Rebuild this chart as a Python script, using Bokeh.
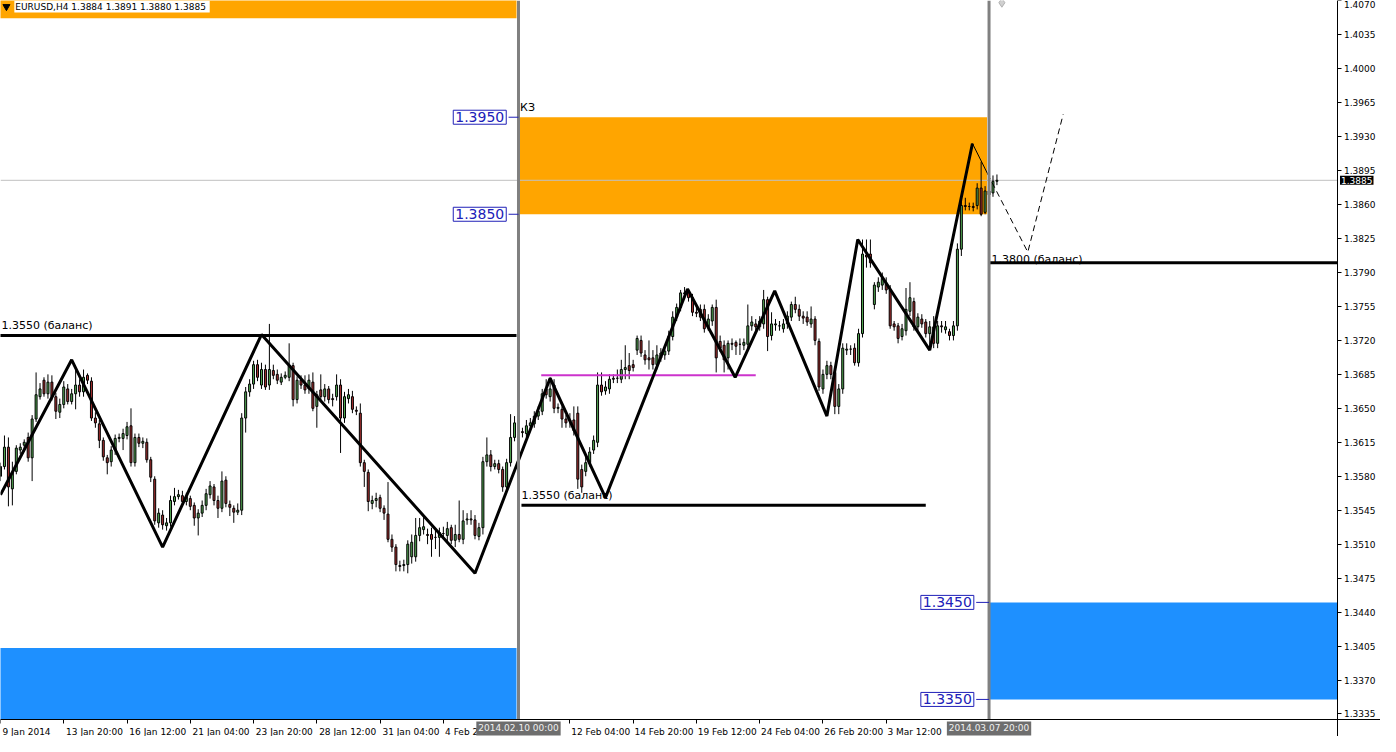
from bokeh.plotting import figure
from bokeh.models import (Range1d, FixedTicker, Label, PrintfTickFormatter,
                          ColumnDataSource, LinearAxis)
from bokeh.core.properties import value
from bokeh.embed import file_html
from bokeh.resources import INLINE

# ---------------- data (EURUSD H4, bar 0 = 2014.02.10 00:00) ----------------
FIRST_BAR = -131

open_ = [
    1.3580, 1.3590, 1.3610, 1.3567, 1.3585, 1.3607, 1.3612, 1.3620, 1.3599, 1.3639,
    1.3662, 1.3679, 1.3665, 1.3677, 1.3662, 1.3646, 1.3654, 1.3670, 1.3657, 1.3665,
    1.3674, 1.3667, 1.3684, 1.3678, 1.3640, 1.3634, 1.3617, 1.3599, 1.3595, 1.3607,
    1.3619, 1.3619, 1.3622, 1.3632, 1.3594, 1.3620, 1.3614, 1.3615, 1.3597, 1.3577,
    1.3532, 1.3540, 1.3529, 1.3532, 1.3554, 1.3559, 1.3560, 1.3554, 1.3557, 1.3550,
    1.3537, 1.3542, 1.3550, 1.3561, 1.3569, 1.3555, 1.3547, 1.3576, 1.3551, 1.3547,
    1.3543, 1.3545, 1.3640, 1.3667, 1.3675, 1.3695, 1.3674, 1.3690, 1.3674, 1.3689,
    1.3685, 1.3677, 1.3682, 1.3682, 1.3694, 1.3659, 1.3679, 1.3674, 1.3670, 1.3677,
    1.3652, 1.3669, 1.3662, 1.3670, 1.3660, 1.3662, 1.3674, 1.3640, 1.3660, 1.3662,
    1.3648, 1.3645, 1.3594, 1.3584, 1.3552, 1.3555, 1.3558, 1.3547, 1.3541, 1.3515,
    1.3507, 1.3488, 1.3488, 1.3489, 1.3497, 1.3497, 1.3519, 1.3525, 1.3520, 1.3520,
    1.3517, 1.3517, 1.3521, 1.3519, 1.3527, 1.3514, 1.3520, 1.3515, 1.3535, 1.3536,
    1.3535, 1.3518, 1.3527, 1.3595, 1.3602, 1.3590, 1.3593, 1.3587, 1.3569, 1.3594, 1.3620,
    1.3635, 1.3626, 1.3624, 1.3632, 1.3634, 1.3642, 1.3647, 1.3670, 1.3662, 1.3674,
    1.3650, 1.3649, 1.3639, 1.3637, 1.3638, 1.3645, 1.3587, 1.3585, 1.3594, 1.3607,
    1.3615, 1.3674, 1.3668, 1.3670, 1.3680, 1.3681, 1.3680, 1.3690, 1.3694, 1.3695,
    1.3710, 1.3720, 1.3705, 1.3702, 1.3702, 1.3695, 1.3702, 1.3705, 1.3709, 1.3724,
    1.3744, 1.3754, 1.3768, 1.3770, 1.3764, 1.3749, 1.3752, 1.3752, 1.3734, 1.3740,
    1.3754, 1.3719, 1.3715, 1.3702, 1.3717, 1.3718, 1.3716, 1.3715, 1.3716, 1.3735,
    1.3737, 1.3734, 1.3737, 1.3762, 1.3725, 1.3736, 1.3735, 1.3732, 1.3737, 1.3744,
    1.3757, 1.3752, 1.3745, 1.3744, 1.3737, 1.3742, 1.3719, 1.3670, 1.3685, 1.3694,
    1.3687, 1.3652, 1.3670, 1.3710, 1.3711, 1.3712, 1.3697, 1.3727, 1.3808, 1.3809,
    1.3757, 1.3775, 1.3777, 1.3779, 1.3772, 1.3737, 1.3735, 1.3724, 1.3730, 1.3750,
    1.3760, 1.3734, 1.3742, 1.3739, 1.3727, 1.3734, 1.3717, 1.3735, 1.3731, 1.3729,
    1.3725, 1.3735, 1.3814, 1.3859, 1.3858, 1.3858, 1.3859, 1.3877, 1.3852, 1.3874,
    1.3872, 1.3884,
]

high = [
    1.3594, 1.3622, 1.3620, 1.3595, 1.3612, 1.3614, 1.3618, 1.3625, 1.3643, 1.3687,
    1.3676, 1.3682, 1.3685, 1.3684, 1.3666, 1.3660, 1.3678, 1.3675, 1.3670, 1.3690,
    1.3680, 1.3690, 1.3686, 1.3682, 1.3646, 1.3638, 1.3620, 1.3602, 1.3611, 1.3623,
    1.3624, 1.3629, 1.3636, 1.3650, 1.3624, 1.3624, 1.3620, 1.3619, 1.3600, 1.3580,
    1.3547, 1.3545, 1.3537, 1.3560, 1.3568, 1.3566, 1.3565, 1.3563, 1.3560, 1.3553,
    1.3546, 1.3555, 1.3567, 1.3575, 1.3572, 1.3560, 1.3585, 1.3580, 1.3555, 1.3550,
    1.3552, 1.3645, 1.3672, 1.3680, 1.3699, 1.3700, 1.3697, 1.3695, 1.3737, 1.3695,
    1.3690, 1.3686, 1.3688, 1.3717, 1.3697, 1.3683, 1.3684, 1.3684, 1.3685, 1.3687,
    1.3668, 1.3685, 1.3675, 1.3673, 1.3665, 1.3685, 1.3680, 1.3667, 1.3670, 1.3668,
    1.3652, 1.3655, 1.3597, 1.3587, 1.3560, 1.3563, 1.3561, 1.3550, 1.3574, 1.3520,
    1.3510, 1.3493, 1.3494, 1.3514, 1.3520, 1.3537, 1.3537, 1.3540, 1.3526, 1.3527,
    1.3525, 1.3527, 1.3528, 1.3533, 1.3530, 1.3530, 1.3555, 1.3545, 1.3542, 1.3545,
    1.3540, 1.3532, 1.3600, 1.3620, 1.3607, 1.3597, 1.3597, 1.3590, 1.3598, 1.3644, 1.3642,
    1.3645, 1.3630, 1.3638, 1.3640, 1.3647, 1.3652, 1.3670, 1.3680, 1.3682, 1.3680,
    1.3655, 1.3652, 1.3643, 1.3645, 1.3652, 1.3652, 1.3592, 1.3600, 1.3610, 1.3622,
    1.3687, 1.3687, 1.3678, 1.3685, 1.3685, 1.3690, 1.3700, 1.3715, 1.3707, 1.3700,
    1.3725, 1.3725, 1.3710, 1.3720, 1.3710, 1.3715, 1.3712, 1.3715, 1.3730, 1.3750,
    1.3758, 1.3772, 1.3775, 1.3772, 1.3768, 1.3755, 1.3757, 1.3757, 1.3747, 1.3757,
    1.3762, 1.3725, 1.3720, 1.3720, 1.3722, 1.3720, 1.3722, 1.3722, 1.3757, 1.3745,
    1.3742, 1.3745, 1.3772, 1.3765, 1.3749, 1.3742, 1.3740, 1.3742, 1.3750, 1.3760,
    1.3765, 1.3757, 1.3750, 1.3750, 1.3755, 1.3745, 1.3722, 1.3690, 1.3699, 1.3698,
    1.3690, 1.3675, 1.3717, 1.3717, 1.3715, 1.3717, 1.3732, 1.3824, 1.3824, 1.3824,
    1.3780, 1.3785, 1.3790, 1.3785, 1.3777, 1.3740, 1.3738, 1.3737, 1.3774, 1.3780,
    1.3764, 1.3748, 1.3747, 1.3742, 1.3740, 1.3745, 1.3740, 1.3740, 1.3740, 1.3732,
    1.3740, 1.3820, 1.3865, 1.3867, 1.3862, 1.3862, 1.3882, 1.3904, 1.3879, 1.3880,
    1.3890, 1.3891,
]

low = [
    1.3575, 1.3587, 1.3549, 1.3550, 1.3582, 1.3603, 1.3608, 1.3595, 1.3575, 1.3636,
    1.3659, 1.3662, 1.3660, 1.3658, 1.3639, 1.3640, 1.3650, 1.3654, 1.3654, 1.3649,
    1.3662, 1.3662, 1.3675, 1.3637, 1.3630, 1.3609, 1.3596, 1.3582, 1.3590, 1.3602,
    1.3615, 1.3607, 1.3618, 1.3590, 1.3590, 1.3610, 1.3609, 1.3594, 1.3574, 1.3530,
    1.3527, 1.3525, 1.3524, 1.3528, 1.3550, 1.3556, 1.3550, 1.3550, 1.3545, 1.3529,
    1.3519, 1.3538, 1.3545, 1.3557, 1.3550, 1.3537, 1.3543, 1.3548, 1.3539, 1.3532,
    1.3540, 1.3540, 1.3625, 1.3662, 1.3670, 1.3678, 1.3670, 1.3669, 1.3669, 1.3680,
    1.3675, 1.3674, 1.3680, 1.3678, 1.3652, 1.3655, 1.3670, 1.3665, 1.3665, 1.3647,
    1.3630, 1.3658, 1.3657, 1.3655, 1.3652, 1.3658, 1.3604, 1.3635, 1.3655, 1.3645,
    1.3643, 1.3590, 1.3569, 1.3544, 1.3546, 1.3548, 1.3543, 1.3535, 1.3512, 1.3502,
    1.3482, 1.3482, 1.3482, 1.3480, 1.3490, 1.3492, 1.3513, 1.3520, 1.3510, 1.3497,
    1.3505, 1.3497, 1.3515, 1.3513, 1.3510, 1.3507, 1.3512, 1.3510, 1.3530, 1.3530,
    1.3515, 1.3514, 1.3520, 1.3590, 1.3585, 1.3587, 1.3583, 1.3564, 1.3565, 1.3590, 1.3616,
    1.3630, 1.3620, 1.3620, 1.3628, 1.3630, 1.3638, 1.3643, 1.3660, 1.3657, 1.3645,
    1.3645, 1.3630, 1.3630, 1.3630, 1.3622, 1.3567, 1.3563, 1.3580, 1.3590, 1.3603,
    1.3610, 1.3663, 1.3664, 1.3665, 1.3676, 1.3676, 1.3676, 1.3680, 1.3680, 1.3688,
    1.3705, 1.3703, 1.3695, 1.3690, 1.3690, 1.3690, 1.3698, 1.3700, 1.3705, 1.3720,
    1.3740, 1.3750, 1.3765, 1.3760, 1.3745, 1.3744, 1.3740, 1.3728, 1.3730, 1.3735,
    1.3687, 1.3708, 1.3687, 1.3690, 1.3710, 1.3705, 1.3705, 1.3710, 1.3710, 1.3730,
    1.3728, 1.3730, 1.3732, 1.3709, 1.3720, 1.3730, 1.3730, 1.3728, 1.3732, 1.3740,
    1.3748, 1.3740, 1.3737, 1.3735, 1.3733, 1.3715, 1.3668, 1.3665, 1.3680, 1.3680,
    1.3644, 1.3644, 1.3665, 1.3705, 1.3705, 1.3694, 1.3693, 1.3723, 1.3795, 1.3795,
    1.3752, 1.3770, 1.3772, 1.3768, 1.3732, 1.3730, 1.3717, 1.3720, 1.3725, 1.3745,
    1.3730, 1.3730, 1.3733, 1.3723, 1.3712, 1.3712, 1.3712, 1.3728, 1.3727, 1.3720,
    1.3720, 1.3730, 1.3807, 1.3854, 1.3854, 1.3853, 1.3855, 1.3848, 1.3850, 1.3865,
    1.3868, 1.3880,
]

close = [
    1.3590, 1.3610, 1.3569, 1.3584, 1.3609, 1.3610, 1.3615, 1.3599, 1.3639, 1.3664,
    1.3670, 1.3665, 1.3677, 1.3662, 1.3647, 1.3654, 1.3672, 1.3657, 1.3665, 1.3674,
    1.3667, 1.3682, 1.3679, 1.3640, 1.3635, 1.3617, 1.3600, 1.3594, 1.3607, 1.3619,
    1.3620, 1.3624, 1.3631, 1.3594, 1.3620, 1.3614, 1.3616, 1.3597, 1.3579, 1.3534,
    1.3542, 1.3530, 1.3532, 1.3555, 1.3559, 1.3561, 1.3554, 1.3559, 1.3549, 1.3537,
    1.3542, 1.3550, 1.3562, 1.3570, 1.3555, 1.3547, 1.3575, 1.3552, 1.3548, 1.3543,
    1.3545, 1.3640, 1.3667, 1.3675, 1.3695, 1.3682, 1.3690, 1.3672, 1.3690, 1.3684,
    1.3679, 1.3682, 1.3684, 1.3694, 1.3659, 1.3679, 1.3674, 1.3669, 1.3679, 1.3650,
    1.3664, 1.3662, 1.3670, 1.3659, 1.3659, 1.3674, 1.3640, 1.3662, 1.3664, 1.3649,
    1.3647, 1.3594, 1.3585, 1.3554, 1.3555, 1.3557, 1.3547, 1.3542, 1.3515, 1.3507,
    1.3489, 1.3487, 1.3489, 1.3510, 1.3512, 1.3519, 1.3527, 1.3528, 1.3519, 1.3515,
    1.3517, 1.3522, 1.3521, 1.3526, 1.3514, 1.3520, 1.3515, 1.3534, 1.3536, 1.3535,
    1.3519, 1.3527, 1.3595, 1.3602, 1.3590, 1.3593, 1.3587, 1.3569, 1.3594, 1.3620, 1.3635,
    1.3640, 1.3625, 1.3632, 1.3635, 1.3642, 1.3647, 1.3665, 1.3664, 1.3670, 1.3650,
    1.3651, 1.3639, 1.3635, 1.3638, 1.3627, 1.3577, 1.3569, 1.3594, 1.3605, 1.3617,
    1.3674, 1.3667, 1.3672, 1.3680, 1.3681, 1.3681, 1.3690, 1.3692, 1.3689, 1.3692,
    1.3722, 1.3707, 1.3700, 1.3700, 1.3695, 1.3705, 1.3707, 1.3709, 1.3724, 1.3744,
    1.3754, 1.3769, 1.3769, 1.3764, 1.3749, 1.3748, 1.3744, 1.3732, 1.3742, 1.3754,
    1.3702, 1.3712, 1.3700, 1.3717, 1.3716, 1.3714, 1.3716, 1.3718, 1.3735, 1.3739,
    1.3734, 1.3740, 1.3762, 1.3724, 1.3737, 1.3737, 1.3735, 1.3737, 1.3745, 1.3757,
    1.3752, 1.3745, 1.3743, 1.3739, 1.3742, 1.3720, 1.3672, 1.3685, 1.3694, 1.3685,
    1.3652, 1.3670, 1.3712, 1.3711, 1.3711, 1.3697, 1.3727, 1.3809, 1.3806, 1.3800,
    1.3777, 1.3780, 1.3784, 1.3772, 1.3735, 1.3734, 1.3722, 1.3732, 1.3752, 1.3764,
    1.3734, 1.3744, 1.3737, 1.3727, 1.3734, 1.3717, 1.3735, 1.3734, 1.3734, 1.3725,
    1.3735, 1.3814, 1.3859, 1.3858, 1.3858, 1.3857, 1.3877, 1.3850, 1.3874, 1.3870,
    1.3884, 1.3885,
]

# time axis labels (bar index -> text)
date_ticks = [-131, -115, -99, -83, -67, -51, -35, -19, 13, 29, 45, 61, 77, 93]
date_labels = ["9 Jan 2014", "13 Jan 20:00", "16 Jan 12:00", "21 Jan 04:00",
               "23 Jan 20:00", "28 Jan 12:00", "31 Jan 04:00", "4 Feb 20:00",
               "12 Feb 04:00", "14 Feb 20:00", "19 Feb 12:00", "24 Feb 04:00",
               "26 Feb 20:00", "3 Mar 12:00"]
price_ticks = [1.3335, 1.3370, 1.3405, 1.3440, 1.3475, 1.3510, 1.3545, 1.3580,
               1.3615, 1.3650, 1.3685, 1.3720, 1.3755, 1.3790, 1.3825, 1.3860,
               1.3895, 1.3930, 1.3965, 1.4000, 1.4035, 1.4070]

# vertical separators (bars) and their labels
sep_bars = [0, 119]
sep_labels = ["2014.02.10 00:00", "2014.03.07 20:00"]

# zones: left, right, bottom, top
zone_left = [-140, -140, 0.25, 119.25]
zone_right = [-0.5, -0.5, 118.5, 207]
zone_bottom = [1.4052, 1.33289, 1.3850, 1.3350]
zone_top = [1.4200, 1.3403, 1.3950, 1.3450]
zone_color = ["#FFA500", "#1E90FF", "#FFA500", "#1E90FF"]

# balance levels
lvl_x0 = [-140, 0.75, 119.25]
lvl_x1 = [-0.5, 103, 207]
lvl_price = [1.3725, 1.3550, 1.3800]
lvl_text = ["1.3550 (баланс)", "1.3550 (баланс)", "1.3800 (баланс)"]

# price tags
tag_price = [1.3950, 1.3850, 1.3450, 1.3350]
tag_anchor = [0, 0, 119, 119]

# zigzag
zz_bar = [-131, -113, -90, -65, -11, 8, 22, 42.75, 54.8, 64.8, 78, 85.8, 104, 114.8]
zz_price = [1.3561, 1.3700, 1.3507, 1.3726, 1.3480, 1.3681, 1.3558, 1.3773,
            1.3682, 1.3771, 1.3642, 1.3824, 1.3710, 1.3923]

# forecast path
fc_bar = [114.8, 118.6, 128.8, 137.75]
fc_price = [1.3923, 1.3892, 1.3811, 1.3953]

# magenta level
mg_bar = [5.75, 60]
mg_price = [1.3684, 1.3684]

current_price = 1.3885
title_text = "EURUSD,H4  1.3884 1.3891 1.3880 1.3885"

# ---------------- figure ----------------
W, H = 1380, 736
X0, XA = -131, 207            # chart area in bars (XA = price axis position)
X1 = XA + 11                  # right end incl. the price-axis strip
YA, Y1 = 1.33289, 1.40703     # chart area in price (YA = time axis position)
Y0 = YA - 0.00171             # bottom incl. the time-axis strip
FONT = "DejaVu Sans"
PX_PER_BAR = W / (X1 - X0)
PX_PER_PRICE = H / (Y1 - Y0)

p = figure(width=W, height=H, x_range=Range1d(X0, X1), y_range=Range1d(Y0, Y1),
           x_axis_location=None, y_axis_location=None,
           toolbar_location=None, output_backend="svg",
           min_border_left=0, min_border_top=0, min_border_right=0, min_border_bottom=0)
p.outline_line_color = None
p.background_fill_color = "white"
p.border_fill_color = "white"
p.xgrid.visible = False
p.ygrid.visible = False

# zones
p.quad(left=zone_left, right=zone_right, bottom=zone_bottom, top=zone_top,
       fill_color=zone_color, line_color=None)

# current price line
p.segment(x0=[X0], y0=[current_price], x1=[XA], y1=[current_price],
          line_color="#C0C0C0", line_width=1)

# candles
bars = list(range(FIRST_BAR, FIRST_BAR + len(close)))
src = ColumnDataSource(dict(
    x=bars, h=high, l=low,
    top=[max(o, c) for o, c in zip(open_, close)],
    bot=[min(o, c) for o, c in zip(open_, close)],
    fill=["#52A852" if c >= o else "#A83030" for o, c in zip(open_, close)],
))
p.segment(x0="x", y0="h", x1="x", y1="l", source=src, line_color="black", line_width=1)
p.vbar(x="x", width=0.5, top="top", bottom="bot", fill_color="fill",
       line_color="black", line_width=1, source=src)

# level texts
p.text(x=[X0 + 0.25, 0.75, 119.6], y=[1.37284, 1.35539, 1.37970], text=lvl_text,
       text_font=value(FONT), text_font_size=value("11px"), text_color="black",
       text_align="left", text_baseline="bottom")
p.text(x=[0.4], y=[1.39533], text=["КЗ"], text_font=value(FONT),
       text_font_size=value("11px"), text_color="black",
       text_align="left", text_baseline="bottom")

# balance levels
p.segment(x0=lvl_x0, y0=lvl_price, x1=lvl_x1, y1=lvl_price, line_color="black", line_width=3)

# magenta level
p.line(mg_bar, mg_price, line_color="#CC33CC", line_width=2)

# zigzag
p.line(zz_bar, zz_price, line_color="black", line_width=3)

# forecast
p.line(fc_bar[:2], fc_price[:2], line_color="black", line_width=1)
p.line(fc_bar[1:], fc_price[1:], line_color="black", line_width=1, line_dash="6 4")

# small diamond at top
p.scatter([122.25], [1.4068], marker="diamond", size=9, fill_color="#D0D0D0", line_color="#B0B0B0")

# separators
p.segment(x0=sep_bars, y0=[YA] * len(sep_bars), x1=sep_bars, y1=[Y1] * len(sep_bars),
          line_color="#808080", line_width=3)

# price tags
BLUE = "#2020B8"
for pr, anc in zip(tag_price, tag_anchor):
    gap = 2.5 if anc == 0 else 3.25
    p.segment(x0=[anc - gap], y0=[pr], x1=[anc], y1=[pr], line_color=BLUE, line_width=1)
    p.add_layout(Label(x=anc - gap - 0.6, y=pr, text="%.4f" % pr, text_align="right",
                       text_baseline="middle", text_color=BLUE, text_font=FONT,
                       text_font_size="14px", border_line_color=BLUE, border_line_width=1,
                       background_fill_color="white", padding=2))

# title
p.scatter([X0 + 1.5], [1.4064], marker="inverted_triangle", size=7,
          fill_color="black", line_color="black")
p.add_layout(Label(x=X0 + 3.5, y=1.4064, text=title_text, text_align="left",
                   text_baseline="middle", text_color="black", text_font=FONT,
                   text_font_size="9px", background_fill_color="white", padding=1))

# ---------------- axes (fixed at the chart-area edges) ----------------
label_centers = [t + (2 + 4.8 * len(s) / 2) / PX_PER_BAR for t, s in zip(date_ticks, date_labels)]
xaxis = LinearAxis(fixed_location=YA,
                   ticker=FixedTicker(ticks=label_centers, minor_ticks=date_ticks),
                   major_label_overrides={c: s for c, s in zip(label_centers, date_labels)},
                   major_tick_out=0, major_tick_in=0, minor_tick_out=4, minor_tick_in=0,
                   axis_line_color="black", minor_tick_line_color="black",
                   major_label_standoff=3, major_label_text_font=FONT,
                   major_label_text_font_size="9px", major_label_text_color="black")
p.add_layout(xaxis, "below")

yaxis = LinearAxis(fixed_location=XA, ticker=FixedTicker(ticks=price_ticks),
                   formatter=PrintfTickFormatter(format="%.4f"),
                   major_tick_out=4, major_tick_in=0, minor_tick_out=0, minor_tick_in=0,
                   major_label_standoff=3, axis_line_color="black",
                   major_tick_line_color="black", major_label_text_font=FONT,
                   major_label_text_font_size="9px", major_label_text_color="black")
p.add_layout(yaxis, "right")

# highlighted time labels of the separators and the current price tag
Y_DATE = YA - 8.5 / PX_PER_PRICE
for b, lab in zip(sep_bars, sep_labels):
    p.add_layout(Label(x=b, y=Y_DATE, text=lab, text_align="center",
                       text_baseline="middle", text_color="#F0F0F0", text_font=FONT,
                       text_font_size="9px", background_fill_color="#6E6E6E", padding=2))

p.add_layout(Label(x=XA + 3 / PX_PER_BAR, y=current_price, text="%.4f" % current_price,
                   text_align="left", text_baseline="middle", text_color="white",
                   text_font=FONT, text_font_size="9px", background_fill_color="black",
                   padding=1))

open("out.html", "w").write(file_html(p, INLINE))
